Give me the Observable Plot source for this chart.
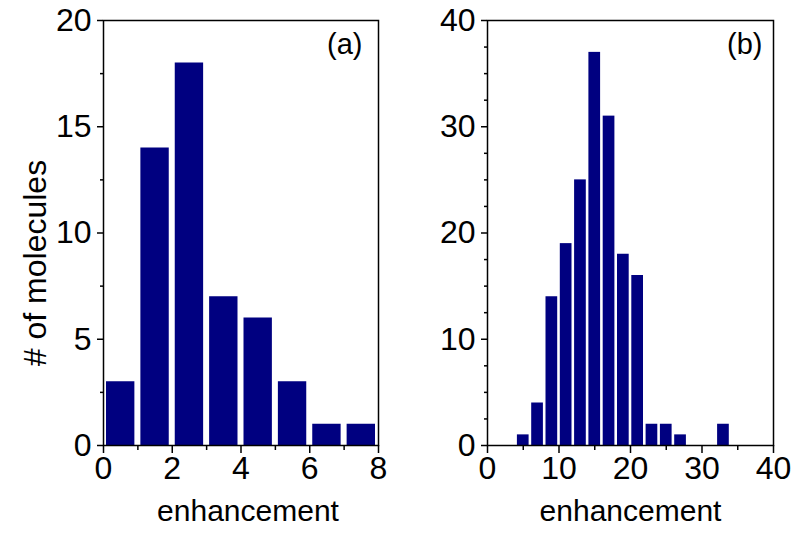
<!DOCTYPE html>
<html>
<head>
<meta charset="utf-8">
<script src="https://cdn.jsdelivr.net/npm/d3@7"></script>
<script src="https://cdn.jsdelivr.net/npm/@observablehq/plot@0.6"></script>
<style>
  html, body { margin: 0; padding: 0; background: #fff; }
  #wrap { position: relative; width: 800px; height: 533px; }
  #a, #b { position: absolute; top: 0; }
  #a { left: 0; }
  #b { left: 400px; }
</style>
</head>
<body>
<div id="wrap"><div id="a"></div><div id="b"></div></div>
<script>
// Panel (a): bins of width 1
const aEdges = [0, 1, 2, 3, 4, 5, 6, 7];
const aCounts = [3, 14, 18, 7, 6, 3, 1, 1];
const aBinWidth = 1;
const aXMajor = [0, 2, 4, 6, 8];
const aXMinor = [1, 3, 5, 7];
const aYMajor = [0, 5, 10, 15, 20];
const aYMinor = [2.5, 7.5, 12.5, 17.5];

// Panel (b): bins of width 2
const bEdges = [4, 6, 8, 10, 12, 14, 16, 18, 20, 22, 24, 26, 28, 30, 32];
const bCounts = [1, 4, 14, 19, 25, 37, 31, 18, 16, 2, 2, 1, 0, 0, 2];
const bBinWidth = 2;
const bXMajor = [0, 10, 20, 30, 40];
const bXMinor = [5, 15, 25, 35];
const bYMajor = [0, 10, 20, 30, 40];
const bYMinor = [2.5, 5, 7.5, 12.5, 15, 17.5, 22.5, 25, 27.5, 32.5, 35, 37.5];

const xLabel = "enhancement";
const yLabel = "# of molecules";

const barColor = "#000080";
const font = "'Liberation Sans', Arial, sans-serif";

function panel({edges, counts, binWidth, xDomain, yDomain, xMajor, xMinor, yMajor, yMinor, tag, marginLeft, marginRight, inset, tagDx, showYLabel, xLabelDx}) {
  const data = edges.map((e, i) => ({x0: e, x1: e + binWidth, count: counts[i]}));
  const marks = [
    Plot.rectY(data, {x1: "x0", x2: "x1", y: "count", fill: barColor, insetLeft: inset, insetRight: inset}),
    Plot.frame({stroke: "#000", strokeWidth: 1.5}),
    Plot.axisX({ticks: xMajor, tickSize: 8, tickPadding: 3, strokeWidth: 1.5, fontSize: 32, tickFormat: d => d}),
    Plot.axisX({ticks: xMinor, tickSize: 5, strokeWidth: 1.5, text: null}),
    Plot.axisY({ticks: yMajor, tickSize: 6, tickPadding: 6, strokeWidth: 1.5, fontSize: 32, tickFormat: d => d}),
    Plot.axisY({ticks: yMinor, tickSize: 3, strokeWidth: 1.5, text: null}),
    Plot.text([tag], {text: d => d, frameAnchor: "top-right", textAnchor: "end", lineAnchor: "top", dx: tagDx, dy: 13, fontSize: 29}),
    Plot.text([xLabel], {text: d => d, frameAnchor: "bottom", lineAnchor: "middle", dy: 66, dx: xLabelDx, fontSize: 30})
  ];
  if (showYLabel) {
    marks.push(Plot.text([yLabel], {text: d => d, frameAnchor: "left", textAnchor: "middle", rotate: -90, lineAnchor: "middle", dx: -68, dy: 30, fontSize: 32}));
  }
  return Plot.plot({
    width: 400,
    height: 533,
    marginLeft, marginRight,
    marginTop: 20,
    marginBottom: 88,
    style: {fontFamily: font, color: "#000", background: "#fff", overflow: "visible"},
    x: {domain: xDomain, label: null},
    y: {domain: yDomain, label: null},
    marks
  });
}

document.getElementById("a").appendChild(panel({
  edges: aEdges, counts: aCounts, binWidth: aBinWidth, xDomain: [0, 8], yDomain: [0, 20],
  xMajor: aXMajor, xMinor: aXMinor, yMajor: aYMajor, yMinor: aYMinor, tag: "(a)",
  marginLeft: 103, marginRight: 22, inset: 3, tagDx: -16, showYLabel: true, xLabelDx: 7
}));
document.getElementById("b").appendChild(panel({
  edges: bEdges, counts: bCounts, binWidth: bBinWidth, xDomain: [0, 40], yDomain: [0, 40],
  xMajor: bXMajor, xMinor: bXMinor, yMajor: bYMajor, yMinor: bYMinor, tag: "(b)",
  marginLeft: 87, marginRight: 27, inset: 1.3, tagDx: -11, showYLabel: false, xLabelDx: 0
}));
</script>
</body>
</html>
